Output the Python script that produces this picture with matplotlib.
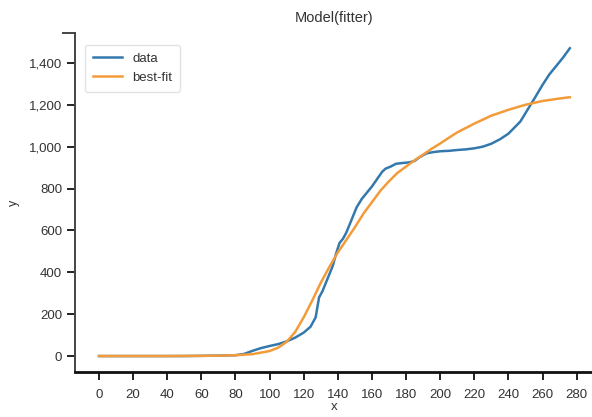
import matplotlib
matplotlib.use("Agg")
import matplotlib.pyplot as plt
from matplotlib.ticker import FuncFormatter

plt.rcParams["font.family"] = ["Liberation Sans", "DejaVu Sans"]

# observed series
data_x = [0, 10, 20, 30, 40, 50, 60, 70, 80, 85, 90, 95, 100, 105, 110, 115, 120,
          124, 127, 129, 131, 134, 137, 139, 141, 143, 145, 148, 151, 154, 157,
          160, 163, 166, 168, 171, 174, 178, 182, 185, 188, 192, 196, 200, 205,
          210, 215, 220, 225, 230, 235, 240, 244, 247, 250, 253, 256, 260, 264,
          268, 272, 276]
data_y = [0, 0, 0, 0, 0, 0, 1, 2, 4, 10, 25, 38, 48, 57, 70, 88, 112,
          140, 185, 280, 310, 370, 430, 490, 540, 560, 590, 650, 710, 750, 780,
          810, 845, 880, 895, 905, 918, 922, 925, 932, 950, 968, 974, 978, 980,
          984, 987, 992, 1000, 1014, 1035, 1062, 1095, 1120, 1160, 1200, 1240,
          1295, 1345, 1385, 1425, 1470]

# fitted curve
fit_x = [0, 20, 40, 60, 70, 80, 90, 100, 105, 110, 115, 120, 125, 130, 135,
         140, 145, 150, 155, 160, 165, 170, 175, 180, 185, 190, 195, 200, 205,
         210, 220, 230, 240, 250, 260, 270, 276]
fit_y = [0, 0, 0, 1, 2, 4, 9, 24, 40, 68, 115, 185, 265, 350, 425,
         495, 555, 615, 680, 735, 790, 835, 875, 905, 935, 962, 990, 1015, 1042,
         1068, 1110, 1148, 1176, 1200, 1218, 1230, 1236]

x_ticks = list(range(0, 281, 20))
y_ticks = list(range(0, 1401, 200))

fig = plt.figure(figsize=(5.92, 4.17), dpi=100)
ax = fig.add_axes([0.1275, 0.108, 0.8725, 0.813])

ax.plot(data_x, data_y, color="#3479ad", lw=1.8, label="data")
ax.plot(fit_x, fit_y, color="#f39b3a", lw=1.8, label="best-fit")

ax.set_xlim(-13.8, 289)
ax.set_ylim(-76, 1543)
ax.set_xticks(x_ticks)
ax.set_yticks(y_ticks)
ax.yaxis.set_major_formatter(FuncFormatter(lambda v, p: f"{int(v):,}"))

for s in ["top", "right"]:
    ax.spines[s].set_visible(False)
ax.spines["left"].set_color("#444444")
ax.spines["left"].set_linewidth(1.4)
ax.spines["bottom"].set_color("#111111")
ax.spines["bottom"].set_linewidth(2.0)

ax.tick_params(axis="both", length=6, width=1.4, colors="#222222",
               labelsize=9.5, labelcolor="#333333")
ax.tick_params(axis="x", pad=6)

# d3-style outer tick at the top end of the y spine
ax.plot([-0.025, 0], [1, 1], transform=ax.transAxes, color="#444444",
        lw=1.4, clip_on=False)

ax.set_title("Model(fitter)", fontsize=10.5, color="#333333", pad=8)
ax.set_xlabel("x", fontsize=9.5, color="#333333")
ax.set_ylabel("y", fontsize=9, color="#333333")
# label positions in axes coordinates, as in the reference
ax.xaxis.set_label_coords(0.5, -0.086)
ax.yaxis.set_label_coords(-0.108, 0.5)

leg = ax.legend(loc="upper left", bbox_to_anchor=(0.005, 0.985), fontsize=9.5,
                frameon=True, fancybox=True, handlelength=2.2, borderpad=0.6,
                labelspacing=0.5)
leg.get_frame().set_edgecolor("#dddddd")
leg.get_frame().set_linewidth(1.0)
for t in leg.get_texts():
    t.set_color("#333333")

fig.savefig("out.png", dpi=100)
